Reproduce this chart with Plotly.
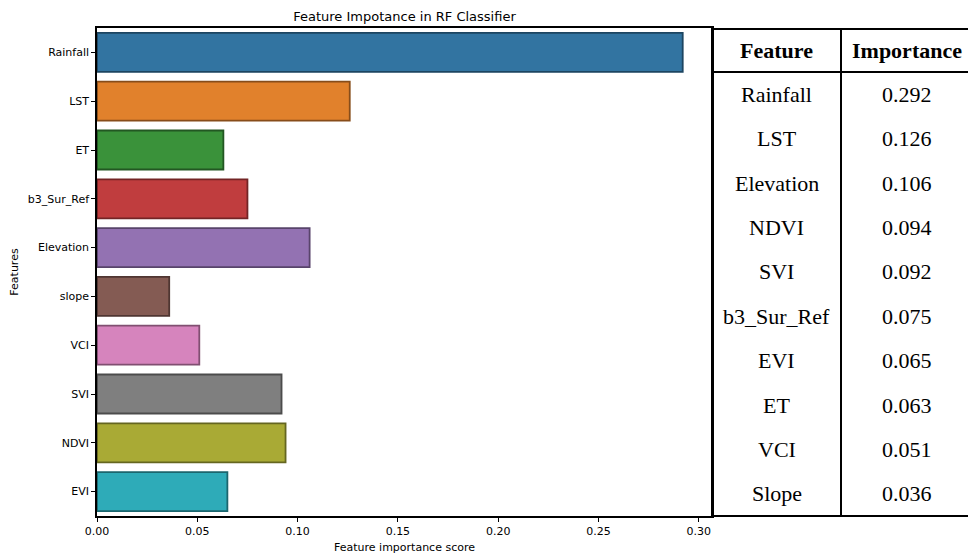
import plotly.graph_objects as go

features = ["Rainfall", "LST", "ET", "b3_Sur_Ref", "Elevation", "slope", "VCI", "SVI", "NDVI", "EVI"]
scores = [0.292, 0.126, 0.063, 0.075, 0.106, 0.036, 0.051, 0.092, 0.094, 0.065]
bar_colors = ["#3274a1", "#e1812c", "#3a923a", "#c03d3e", "#9372b2",
              "#845b53", "#d684bd", "#7f7f7f", "#a9aa35", "#2eabb8"]
edge_colors = ["#1d4561", "#874d1a", "#225722", "#732425", "#58446b",
               "#4f3632", "#804f71", "#4c4c4c", "#656620", "#1b666e"]

table_features = ["Rainfall", "LST", "Elevation", "NDVI", "SVI", "b3_Sur_Ref", "EVI", "ET", "VCI", "Slope"]
table_values = ["0.292", "0.126", "0.106", "0.094", "0.092", "0.075", "0.065", "0.063", "0.051", "0.036"]
table_header = ["Feature", "Importance"]

fig = go.Figure()
fig.add_trace(go.Bar(
    x=scores, y=features, orientation="h", width=0.8,
    marker=dict(color=bar_colors, line=dict(color=edge_colors, width=1.8)),
))

# page body has an 8px margin; compensate so the figure lands where the reference does
OX, OY = 8, 8
W, H = 976 - OX, 555 - OY
L, T = 97 - OX, 28 - OY
pw, ph = 615, 488
R = W - L - pw
B = H - T - ph

def px(x):
    return (x - OX - L) / pw

def py(y):
    return (H - B - (y - OY)) / ph

fig.update_layout(
    width=W, height=H,
    margin=dict(l=L, r=R, t=T, b=B, autoexpand=False),
    plot_bgcolor="white", paper_bgcolor="white",
    showlegend=False,
    font=dict(family="DejaVu Sans", size=11, color="black"),
    title=dict(text="Feature Impotance in RF Classifier", x=(L + pw / 2) / W, xanchor="center",
               y=1 - (16 - OY) / H, yanchor="middle", font=dict(size=13, family="DejaVu Sans")),
    xaxis=dict(range=[0, 0.3066], tickvals=[0, 0.05, 0.1, 0.15, 0.2, 0.25, 0.3], tickformat=".2f",
               showgrid=False, zeroline=False, showline=True, linecolor="black", linewidth=1.5,
               mirror=True, ticks="outside", ticklen=4, tickcolor="black",
               title=dict(text="Feature importance score", font=dict(size=11), standoff=6)),
    yaxis=dict(categoryorder="array", categoryarray=features,
               range=[9.5, -0.5], autorange=False,
               showgrid=False, zeroline=False, showline=True, linecolor="black", linewidth=1.5,
               mirror=True, ticks="outside", ticklen=4, tickcolor="black",
               title=dict(text="Features", font=dict(size=11), standoff=8)),
)

# Table on the right
tx0, tx1, tx2 = 712, 841, 973
ty0, tyh, ty1 = 29, 72, 516
line = dict(color="black", width=2)
fig.add_shape(type="rect", xref="paper", yref="paper", x0=px(tx0), x1=px(tx2), y0=py(ty1), y1=py(ty0),
              line=line, fillcolor="rgba(0,0,0,0)")
fig.add_shape(type="line", xref="paper", yref="paper", x0=px(tx1), x1=px(tx1), y0=py(ty1), y1=py(ty0), line=line)
fig.add_shape(type="line", xref="paper", yref="paper", x0=px(tx0), x1=px(tx2), y0=py(tyh), y1=py(tyh), line=line)

c1 = (tx0 + tx1) / 2
c2 = (tx1 + tx2) / 2
serif = "Liberation Serif"
for cx, txt in zip([c1, c2], table_header):
    fig.add_annotation(x=px(cx), y=py((ty0 + tyh) / 2), xref="paper", yref="paper", text="<b>%s</b>" % txt,
                       showarrow=False, font=dict(family=serif, size=22, color="black"),
                       xanchor="center", yanchor="middle")
rh = (ty1 - tyh) / len(table_features)
for i, (f, v) in enumerate(zip(table_features, table_values)):
    cy = tyh + rh * (i + 0.5)
    fig.add_annotation(x=px(c1), y=py(cy), xref="paper", yref="paper", text=f, showarrow=False,
                       font=dict(family=serif, size=22, color="black"), xanchor="center", yanchor="middle")
    fig.add_annotation(x=px(c2), y=py(cy), xref="paper", yref="paper", text=v, showarrow=False,
                       font=dict(family=serif, size=22, color="black"), xanchor="center", yanchor="middle")

fig.write_html("out.html")
